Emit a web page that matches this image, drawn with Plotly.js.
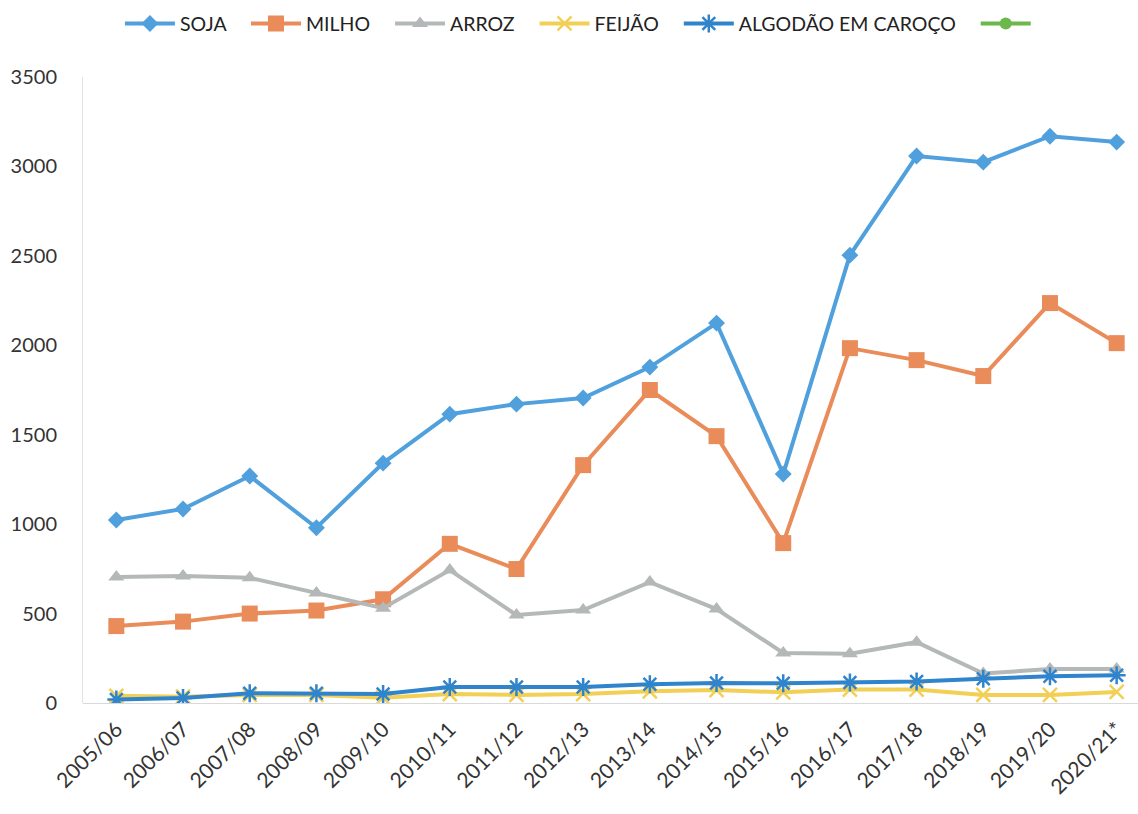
<!DOCTYPE html>
<html>
<head>
<meta charset="utf-8">
<script src="https://cdn.plot.ly/plotly-3.0.1.min.js"></script>
<style>html,body{margin:0;padding:0;background:#fff;}#chart{width:1138px;height:814px;}</style>
</head>
<body>
<div id="chart"></div>
<script>
const categories = ["2005/06","2006/07","2007/08","2008/09","2009/10","2010/11","2011/12","2012/13","2013/14","2014/15","2015/16","2016/17","2017/18","2018/19","2019/20","2020/21*"];
const soja    = [1023,1085,1269,980,1341,1615,1671,1705,1878,2124,1280,2504,3058,3024,3169,3136];
const milho   = [430,455,500,517,580,890,749,1330,1750,1492,894,1984,1917,1828,2236,2012];
const arroz   = [704,710,700,615,530,743,492,520,676,525,280,275,340,165,190,190];
const feijao  = [40,35,45,45,30,50,45,50,65,72,60,75,75,45,45,62];
const algodao = [20,28,55,55,50,90,90,90,105,112,110,115,120,135,150,155];
const vazio   = categories.map(() => null);

const pad = "\u00A0\u00A0\u00A0";
const traces = [
  {name:"SOJA", y:soja, color:"#4fa0dc", sym:"diamond", msize:13},
  {name:"MILHO", y:milho, color:"#e98c5a", sym:"square", msize:16},
  {name:"ARROZ", y:arroz, color:"#b5b8b8", sym:"triangle-up", msize:14},
  {name:"FEIJÃO", y:feijao, color:"#f2cf55", sym:"x-thin-open", msize:14},
  {name:"ALGODÃO EM CAROÇO", y:algodao, color:"#2f84cc", sym:"asterisk-open", msize:15},
  {name:"", y:vazio, color:"#6cb84a", sym:"circle", msize:12}
].map(t => ({
  type:"scatter", mode:"lines+markers", x:categories, y:t.y,
  name: t.name ? t.name + pad : "",
  line:{color:t.color, width:4},
  marker:{symbol:t.sym, size:t.msize, color:t.color,
          line:{color: t.sym==="asterisk-open" ? "#2a6aa8" : (t.sym==="x-thin-open" ? "#f2cf55" : t.color), width: (t.sym.indexOf("open")>=0 ? 2.5 : 0)}},
  showlegend:true
}));

const layout = {
  width:1138, height:814,
  margin:{l:83, r:0, t:77, b:111},
  paper_bgcolor:"#ffffff", plot_bgcolor:"#ffffff",
  font:{family:"Lato, 'Open Sans', sans-serif", color:"#333333", size:17},
  showlegend:true,
  legend:{orientation:"h", x:0.035, xanchor:"left", y:1.085, yanchor:"middle",
          font:{size:19.5, color:"#222222"}, itemwidth:50, tracegroupgap:0},
  xaxis:{type:"category", range:[-0.5,15.32], tickangle:-45, showgrid:false, showline:false,
         zeroline:false, ticks:"", tickfont:{size:21, color:"#333"}, ticklabelstandoff:9},
  yaxis:{range:[0,3500], dtick:500, showgrid:false, showline:true, linecolor:"#e2e2e2", linewidth:1,
         zeroline:true, zerolinecolor:"#d9d9d9", zerolinewidth:1, ticks:"", tickfont:{size:20, color:"#333"},
         ticklabelstandoff:21}
};

Plotly.newPlot("chart", traces, layout, {displayModeBar:false, staticPlot:true});
</script>
</body>
</html>
